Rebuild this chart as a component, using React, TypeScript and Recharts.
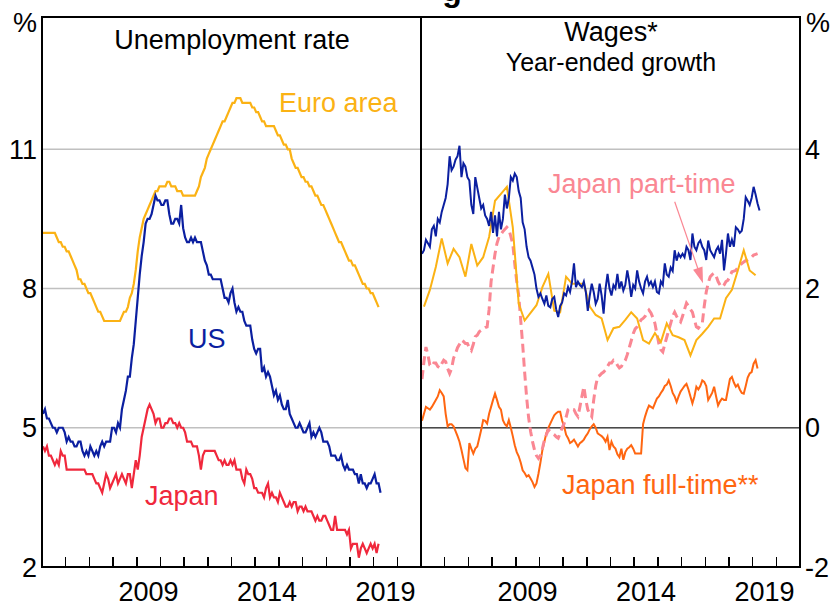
import React from 'react';
import { LineChart, Line, XAxis, YAxis, CartesianGrid, ReferenceLine } from 'recharts';

const FONT = '"Liberation Sans", Arial, Helvetica, sans-serif';

// ---- categories / ticks ----
const START_YEAR = 2005;
const END_YEAR = 2021;
const yearTicks = [2005, 2006, 2007, 2008, 2009, 2010, 2011, 2012, 2013, 2014, 2015, 2016, 2017, 2018, 2019, 2020, 2021];
const yearLabels = [2009, 2014, 2019];
const leftTicks = [2, 5, 8, 11];
const rightTicks = [-2, 0, 2, 4];
const LEFT_DOMAIN: [number, number] = [2, 13.85];
const RIGHT_DOMAIN: [number, number] = [-2, 5.9];

// ---- Unemployment rate, monthly from Jan 2005 (%) ----
const usUnemp = [
  5.3, 5.4, 5.2, 5.2, 5.1, 5.0, 5.0, 4.9, 5.0, 5.0, 5.0, 4.9,
  4.7, 4.8, 4.7, 4.7, 4.6, 4.6, 4.7, 4.7, 4.5, 4.4, 4.5, 4.4,
  4.6, 4.5, 4.4, 4.5, 4.4, 4.6, 4.7, 4.6, 4.7, 4.7, 4.7, 5.0,
  5.0, 4.9, 5.1, 5.0, 5.4, 5.6, 5.8, 6.1, 6.1, 6.5, 6.8, 7.3,
  7.8, 8.3, 8.7, 9.0, 9.4, 9.5, 9.5, 9.6, 9.8, 10.0, 9.9, 9.9,
  9.8, 9.8, 9.9, 9.9, 9.6, 9.4, 9.4, 9.5, 9.5, 9.4, 9.8, 9.3,
  9.1, 9.0, 9.0, 9.1, 9.0, 9.1, 9.0, 9.0, 9.0, 8.8, 8.6, 8.5,
  8.3, 8.3, 8.2, 8.2, 8.2, 8.2, 8.2, 8.0, 7.8, 7.8, 7.7, 7.9,
  8.0, 7.7, 7.5, 7.6, 7.5, 7.5, 7.3, 7.2, 7.2, 7.2, 6.9, 6.7,
  6.6, 6.7, 6.7, 6.2, 6.3, 6.1, 6.2, 6.1, 5.9, 5.7, 5.8, 5.6,
  5.7, 5.5, 5.4, 5.4, 5.6, 5.3, 5.2, 5.1, 5.0, 5.0, 5.1, 5.0,
  4.9, 4.9, 5.0, 5.1, 4.8, 4.9, 4.8, 4.9, 5.0, 4.9, 4.7, 4.7,
  4.7, 4.6, 4.4, 4.4, 4.4, 4.3, 4.3, 4.4, 4.2, 4.1, 4.2, 4.1,
  4.1, 4.1, 4.0, 4.0, 3.8, 4.0, 3.8, 3.8, 3.7, 3.8, 3.8, 3.9,
  4.0, 3.8, 3.8, 3.6,
];
const euroUnemp = [
  9.2, 9.2, 9.2, 9.2, 9.2, 9.2, 9.2, 9.1, 9.0, 9.0, 8.9, 8.9,
  8.8, 8.8, 8.7, 8.6, 8.5, 8.4, 8.2, 8.2, 8.1, 8.1, 8.0, 7.9,
  7.9, 7.8, 7.7, 7.6, 7.5, 7.5, 7.4, 7.3, 7.3, 7.3, 7.3, 7.3,
  7.3, 7.3, 7.3, 7.3, 7.4, 7.5, 7.5, 7.6, 7.8, 7.9, 8.1, 8.4,
  8.8, 9.1, 9.3, 9.5, 9.6, 9.7, 9.8, 9.9, 10.0, 10.1, 10.1, 10.2,
  10.2, 10.2, 10.2, 10.3, 10.3, 10.2, 10.2, 10.2, 10.1, 10.1, 10.1, 10.0,
  10.0, 10.0, 10.0, 10.0, 10.0, 10.0, 10.1, 10.2, 10.4, 10.5, 10.6, 10.8,
  10.9, 11.0, 11.1, 11.2, 11.3, 11.4, 11.5, 11.6, 11.6, 11.7, 11.8, 11.9,
  12.0, 12.0, 12.1, 12.1, 12.1, 12.0, 12.0, 12.0, 12.0, 12.0, 11.9, 11.9,
  11.8, 11.8, 11.7, 11.6, 11.6, 11.5, 11.5, 11.5, 11.5, 11.5, 11.4, 11.3,
  11.3, 11.2, 11.1, 11.1, 11.0, 11.0, 10.8, 10.7, 10.6, 10.6, 10.5, 10.4,
  10.4, 10.3, 10.3, 10.2, 10.2, 10.1, 10.0, 10.0, 9.9, 9.8, 9.8, 9.7,
  9.6, 9.5, 9.4, 9.3, 9.2, 9.1, 9.0, 9.0, 8.9, 8.8, 8.7, 8.6,
  8.6, 8.5, 8.5, 8.4, 8.3, 8.2, 8.1, 8.1, 8.0, 8.0, 7.9, 7.9,
  7.8, 7.7, 7.6,
];
const jpUnemp = [
  4.6, 4.5, 4.6, 4.4, 4.4, 4.3, 4.2, 4.3, 4.2, 4.5, 4.4, 4.4,
  4.1, 4.1, 4.1, 4.1, 4.1, 4.1, 4.1, 4.1, 4.1, 4.1, 4.0, 4.0,
  4.0, 4.0, 3.9, 3.8, 3.8, 3.7, 3.6, 3.8, 4.0, 3.9, 3.7, 3.8,
  3.9, 4.0, 3.8, 3.9, 4.0, 3.9, 3.8, 4.0, 4.0, 3.7, 4.0, 4.3,
  4.1, 4.4, 4.8, 5.0, 5.2, 5.4, 5.5, 5.4, 5.3, 5.1, 5.2, 5.2,
  5.0, 5.0, 5.1, 5.1, 5.2, 5.2, 5.1, 5.1, 5.0, 5.1, 5.0, 5.0,
  4.9, 4.7, 4.7, 4.7, 4.6, 4.6, 4.6, 4.4, 4.1, 4.4, 4.5, 4.5,
  4.5, 4.5, 4.5, 4.5, 4.4, 4.3, 4.3, 4.2, 4.3, 4.2, 4.2, 4.3,
  4.2, 4.3, 4.1, 4.1, 4.1, 3.9, 3.8, 4.1, 4.0, 4.0, 3.9, 3.7,
  3.7, 3.6, 3.6, 3.6, 3.5, 3.7, 3.8, 3.5, 3.6, 3.5, 3.5, 3.4,
  3.6, 3.5, 3.4, 3.3, 3.3, 3.4, 3.3, 3.4, 3.4, 3.2, 3.3, 3.3,
  3.2, 3.3, 3.2, 3.2, 3.2, 3.1, 3.0, 3.1, 3.0, 3.0, 3.1, 3.1,
  3.0, 2.9, 2.8, 2.8, 3.1, 2.8, 2.8, 2.8, 2.8, 2.8, 2.7, 2.8,
  2.4, 2.5, 2.5, 2.5, 2.2, 2.4, 2.5, 2.4, 2.3, 2.4, 2.5, 2.4,
  2.5, 2.3, 2.5,
];

// ---- Wages, year-ended growth (%) ----
// monthly from Jan 2005
const usWages = [
  2.5, 2.55, 2.7, 2.65, 2.6, 2.85, 2.9, 2.75, 3.0, 2.95, 3.1, 3.2,
  3.3, 3.5, 3.9, 3.7, 3.75, 3.85, 3.9, 4.05, 3.6, 3.8, 3.75, 3.6,
  3.55, 3.2, 3.07, 3.6, 3.45, 3.3, 3.15, 3.2, 3.05, 3.0, 2.9, 3.1,
  2.8, 3.05, 2.75, 3.1, 2.85, 3.0, 3.35, 3.15, 3.3, 3.6, 3.55, 3.65,
  3.6, 3.4, 3.3, 2.95, 2.85, 2.6, 2.45, 2.4, 2.3, 2.2, 2.0, 1.88,
  1.93, 1.85, 1.78, 1.9, 1.75, 1.73, 1.85, 1.88, 1.7, 1.59, 1.75, 1.8,
  1.93, 1.9, 2.02, 1.95, 2.1, 2.36, 2.02, 2.1, 2.05, 2.02, 2.1, 1.95,
  1.68, 1.9, 2.07, 1.95, 1.78, 1.85, 2.07, 1.9, 1.64, 2.0, 2.21, 2.0,
  1.9, 2.05, 2.0, 2.21, 2.0, 2.1, 1.97, 2.05, 2.26, 2.1, 1.88, 2.05,
  2.0, 2.26, 2.1, 2.0, 1.93, 2.1, 2.17, 2.05, 2.1, 2.02, 2.1, 1.95,
  1.93, 2.1, 2.05, 2.36, 2.2, 2.17, 2.3, 2.25, 2.55, 2.4, 2.5, 2.45,
  2.5, 2.45, 2.6, 2.55, 2.41, 2.79, 2.6, 2.55, 2.65, 2.69, 2.6, 2.55,
  2.41, 2.69, 2.55, 2.5, 2.45, 2.55, 2.6, 2.5, 2.7, 2.26, 2.5, 2.79,
  2.6, 2.7, 2.6, 2.88, 2.85, 2.8, 2.83, 3.0, 3.31, 3.26, 3.2, 3.3,
  3.46, 3.35, 3.22, 3.12,
];
// quarterly from Q1 2005
const euroWages = [
  1.74, 1.98, 2.31, 2.72, 2.36, 2.57, 2.45, 2.17, 2.64, 2.33, 2.45, 2.74,
  3.26, 3.36, 3.46, 2.88, 1.78, 1.54, 1.65, 1.76, 2.02, 2.21, 1.68, 1.66,
  2.17, 2.07, 2.07, 2.07, 1.74, 1.62, 1.57, 1.26, 1.43, 1.45, 1.55, 1.66,
  1.57, 1.26, 1.21, 1.36, 1.23, 1.5, 1.33, 1.3, 1.26, 1.04, 1.26, 1.35,
  1.45, 1.57, 1.57, 1.86, 1.98, 2.26, 2.55, 2.26, 2.19,
];
// monthly from Jan 2005
const jpPartTime = [
  0.7, 0.95, 1.16, 1.05, 0.9, 0.88, 0.93, 0.93, 0.88, 0.86, 0.92, 0.97,
  0.95, 0.85, 0.78, 0.85, 1.0, 1.07, 1.15, 1.2, 1.26, 1.24, 1.21, 1.21,
  1.15, 1.11, 1.2, 1.31, 1.33, 1.38, 1.4, 1.42, 1.44, 1.45, 1.7, 2.1,
  2.3, 2.5, 2.65, 2.74, 2.78, 2.82, 2.85, 2.88, 2.85, 2.75, 2.64, 2.35,
  2.1, 1.9, 1.55, 1.2, 0.8, 0.44, 0.15, -0.05, -0.2, -0.32, -0.4, -0.44,
  -0.4, -0.3, -0.18, -0.1, -0.03, -0.05, -0.08, -0.1, -0.13, -0.15, -0.08, 0.0,
  0.06, 0.15, 0.26, 0.28, 0.26, 0.26, 0.2, 0.16, 0.3, 0.45, 0.59, 0.4,
  0.26, 0.2, 0.16, 0.4, 0.6, 0.73, 0.75, 0.78, 0.8, 0.83, 0.88, 0.93,
  0.93, 0.97, 0.95, 0.9, 0.86, 0.88, 0.93, 0.97, 1.05, 1.15, 1.25, 1.35,
  1.42, 1.45, 1.5, 1.55, 1.57, 1.6, 1.65, 1.69, 1.65, 1.58, 1.5, 1.35,
  1.21, 1.12, 1.09, 1.2, 1.3, 1.4, 1.5, 1.6, 1.66, 1.6, 1.55, 1.52,
  1.6, 1.7, 1.79, 1.75, 1.7, 1.66, 1.55, 1.45, 1.43, 1.47, 1.5, 1.75,
  1.95, 2.08, 2.17, 2.2, 2.22, 2.18, 2.1, 2.05, 2.02, 2.05, 2.1, 2.12,
  2.18, 2.24, 2.25, 2.26, 2.3, 2.33, 2.36, 2.38, 2.4, 2.41, 2.43, 2.45,
  2.48, 2.49, 2.5,
];
const jpFullTime = [
  0.1, 0.2, 0.3, 0.28, 0.26, 0.3, 0.35, 0.4, 0.45, 0.54, 0.5, 0.45,
  0.2, 0.02, 0.05, 0.05, 0.02, -0.05, -0.12, -0.2, -0.32, -0.45, -0.58, -0.61,
  -0.22, -0.3, -0.37, -0.3, -0.27, -0.15, -0.03, 0.11, 0.1, 0.06, 0.2, 0.3,
  0.4, 0.49, 0.4, 0.3, 0.26, 0.11, 0.05, 0.02, 0.11, 0.0, -0.12, -0.25,
  -0.35, -0.41, -0.5, -0.61, -0.65, -0.7, -0.68, -0.73, -0.78, -0.85, -0.8, -0.66,
  -0.5, -0.32, -0.2, -0.08, 0.0, 0.06, 0.12, 0.18, 0.21, 0.23, 0.23, 0.1,
  0.02, -0.1, -0.15, -0.22, -0.2, -0.17, -0.22, -0.27, -0.22, -0.2, -0.17, -0.12,
  -0.08, -0.02, 0.02, 0.05, 0.0, -0.08, -0.1, -0.12, -0.15, -0.2, -0.13, -0.32,
  -0.2, -0.27, -0.3, -0.38, -0.42, -0.3, -0.46, -0.35, -0.3, -0.28, -0.25, -0.3,
  -0.37, -0.37, -0.37, -0.37, 0.05, 0.16, 0.25, 0.32, 0.3, 0.28, 0.35, 0.42,
  0.45, 0.5, 0.54, 0.6, 0.62, 0.68, 0.6, 0.5, 0.45, 0.37, 0.45, 0.52,
  0.56, 0.6, 0.63, 0.55, 0.45, 0.35, 0.45, 0.59, 0.55, 0.6, 0.68, 0.66,
  0.6, 0.4, 0.45, 0.5, 0.59, 0.45, 0.32, 0.38, 0.42, 0.4, 0.4, 0.55,
  0.7, 0.73, 0.65, 0.59, 0.62, 0.55, 0.5, 0.49, 0.6, 0.72, 0.78, 0.8,
  0.92, 0.97, 0.85,
];

// ---- tables built from the arrays ----
const monthT = (i: number) => START_YEAR + (i + 0.5) / 12;
const leftData = usUnemp.map((v, i) => ({
  t: monthT(i),
  us: v,
  euro: euroUnemp[i] ?? null,
  jp: jpUnemp[i] ?? null,
}));
const rightData = usWages.map((v, i) => ({
  t: monthT(i),
  us: v,
  euro: i % 3 === 1 ? euroWages[(i - 1) / 3] ?? null : null,
  part: jpPartTime[i] ?? null,
  full: jpFullTime[i] ?? null,
}));

const C = {
  us: '#0B1FA0',
  euro: '#FBB214',
  jp: '#F0283C',
  part: '#FA8793',
  full: '#FF6611',
  grid: '#C0C0C0',
  frame: '#000000',
};

// layout of the two plot panels (page pixels)
const TOP = 17;
const BOTTOM = 567;
const L_LEFT = 42;
const DIVIDER = 421;
const R_RIGHT = 800;
const PANEL_W = DIVIDER - L_LEFT;
const yearPx = (panelLeft: number, yr: number) => panelLeft + ((yr - START_YEAR) / (END_YEAR - START_YEAR)) * PANEL_W;

const labelTicks = yearLabels.map((y) => y + 0.5);

const YearLabel = (props: any) => {
  const { x, y, payload } = props;
  return (
    <text x={x} y={y + 34} textAnchor="middle" fontSize={27} fontFamily={FONT} fill="#000">
      {Math.floor(payload.value)}
    </text>
  );
};

const tickStyle = { fill: '#000', fontSize: 27, fontFamily: FONT };

const bar = (left: number, top: number, width: number, height: number, key: string) => (
  <div key={key} style={{ position: 'absolute', left, top, width, height, background: C.frame, zIndex: 20 }} />
);

export default function App() {
  const frameBars = [
    bar(L_LEFT - 1, TOP - 1, 2, BOTTOM - TOP + 2, 'fl'),
    bar(DIVIDER - 1, TOP - 1, 2, BOTTOM - TOP + 2, 'fd'),
    bar(R_RIGHT - 1, TOP - 1, 2, BOTTOM - TOP + 2, 'fr'),
    bar(L_LEFT - 1, TOP - 1, R_RIGHT - L_LEFT + 2, 2, 'ft'),
    bar(L_LEFT - 1, BOTTOM - 1, R_RIGHT - L_LEFT + 2, 2, 'fb'),
  ];
  const tickBars: React.ReactNode[] = [];
  yearTicks.forEach((yr) => {
    tickBars.push(bar(yearPx(L_LEFT, yr) - 0.75, BOTTOM - 10, 1.5, 10, 'tl' + yr));
    tickBars.push(bar(yearPx(DIVIDER, yr) - 0.75, BOTTOM - 10, 1.5, 10, 'tr' + yr));
  });
  return (
    <div style={{ position: 'absolute', left: 0, top: 0, width: 831, height: 608, background: '#fff', overflow: 'hidden' }}>
      <div style={{ position: 'absolute', left: 0, top: 0, zIndex: 1 }}>
        <LineChart width={DIVIDER} height={608} data={leftData} margin={{ top: TOP, right: 0, bottom: 0, left: 0 }}>
          <CartesianGrid xAxisId="x" yAxisId="y" vertical={false} stroke={C.grid} strokeWidth={1.5} />
          <XAxis xAxisId="x" type="number" dataKey="t" domain={[START_YEAR, END_YEAR]} ticks={labelTicks}
            interval={0} height={608 - BOTTOM} tickSize={0} tickMargin={0} tickLine={false} axisLine={false} tick={<YearLabel />} allowDataOverflow />
          <YAxis yAxisId="y" orientation="left" width={L_LEFT} domain={LEFT_DOMAIN} ticks={leftTicks} interval={0}
            tickLine={false} tickSize={0} tickMargin={5} axisLine={false} tick={tickStyle} allowDataOverflow />
          <Line xAxisId="x" yAxisId="y" type="linear" dataKey="euro" stroke={C.euro} strokeWidth={2.2} dot={false} isAnimationActive={false} />
          <Line xAxisId="x" yAxisId="y" type="linear" dataKey="jp" stroke={C.jp} strokeWidth={2.2} dot={false} isAnimationActive={false} />
          <Line xAxisId="x" yAxisId="y" type="linear" dataKey="us" stroke={C.us} strokeWidth={2.2} dot={false} isAnimationActive={false} />
        </LineChart>
      </div>
      <div style={{ position: 'absolute', left: DIVIDER, top: 0, zIndex: 1 }}>
        <LineChart width={831 - DIVIDER} height={608} data={rightData} margin={{ top: TOP, right: 0, bottom: 0, left: 0 }}>
          <CartesianGrid xAxisId="x" yAxisId="y" vertical={false} stroke={C.grid} strokeWidth={1.5} />
          <XAxis xAxisId="x" type="number" dataKey="t" domain={[START_YEAR, END_YEAR]} ticks={labelTicks}
            interval={0} height={608 - BOTTOM} tickSize={0} tickMargin={0} tickLine={false} axisLine={false} tick={<YearLabel />} allowDataOverflow />
          <YAxis yAxisId="y" orientation="right" width={831 - R_RIGHT} domain={RIGHT_DOMAIN} ticks={rightTicks} interval={0}
            tickLine={false} tickSize={0} tickMargin={5} axisLine={false} tick={tickStyle} allowDataOverflow />
          <ReferenceLine xAxisId="x" yAxisId="y" y={0} stroke="#4A4A4A" strokeWidth={1.5} />
          <Line xAxisId="x" yAxisId="y" type="linear" dataKey="full" stroke={C.full} strokeWidth={2} dot={false} isAnimationActive={false} />
          <Line xAxisId="x" yAxisId="y" type="linear" dataKey="part" stroke={C.part} strokeWidth={3} strokeDasharray="9 5" dot={false} isAnimationActive={false} />
          <Line xAxisId="x" yAxisId="y" type="linear" dataKey="euro" stroke={C.euro} strokeWidth={2} dot={false} connectNulls isAnimationActive={false} />
          <Line xAxisId="x" yAxisId="y" type="linear" dataKey="us" stroke={C.us} strokeWidth={2} dot={false} isAnimationActive={false} />
        </LineChart>
      </div>
      <svg width={831} height={608} style={{ position: 'absolute', left: 0, top: 0, pointerEvents: 'none', zIndex: 10 }} fontFamily={FONT}>
        <text x={452} y={1} textAnchor="middle" fontSize={32} fontWeight="bold" fill="#000">g</text>
        <text x={37} y={32} textAnchor="end" fontSize={27} fill="#000">%</text>
        <text x={806} y={32} textAnchor="start" fontSize={27} fill="#000">%</text>
        <text x={232} y={49} textAnchor="middle" fontSize={27} fill="#000">Unemployment rate</text>
        <text x={611} y={41} textAnchor="middle" fontSize={27} fill="#000">Wages*</text>
        <text x={611} y={71} textAnchor="middle" fontSize={25} fill="#000">Year-ended growth</text>
        <text x={279} y={112} fontSize={27} fill={C.euro}>Euro area</text>
        <text x={188} y={348} fontSize={27} fill={C.us}>US</text>
        <text x={145} y={505} fontSize={27} fill={C.jp}>Japan</text>
        <text x={548} y={193} fontSize={27} fill={C.part}>Japan part-time</text>
        <text x={562} y={494} fontSize={27} fill={C.full}>Japan full-time**</text>
        <line x1={674.7} y1={201.7} x2={698} y2={269} stroke={C.part} strokeWidth={1.2} />
        <polygon points="703,283.3 693.1,269.8 702.5,266.6" fill={C.part} />
      </svg>
      {frameBars}
      {tickBars}
    </div>
  );
}
